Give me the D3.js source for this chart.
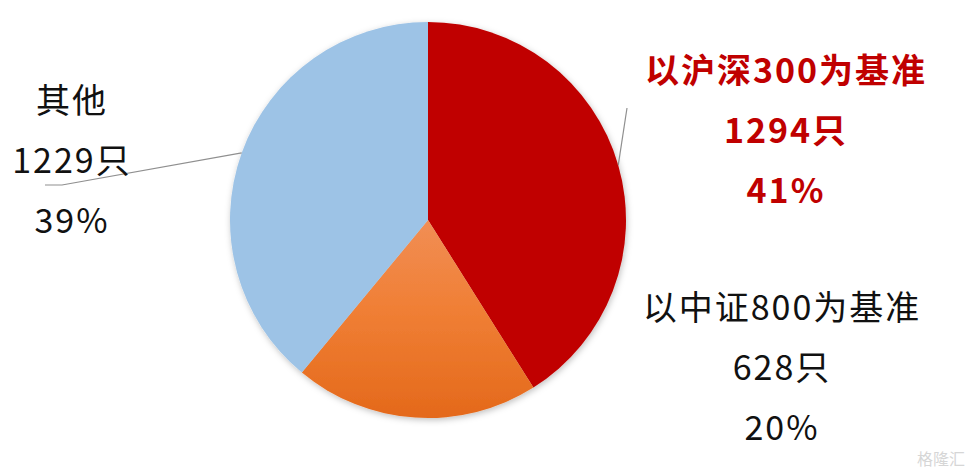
<!DOCTYPE html>
<html><head><meta charset="utf-8">
<script src="https://cdn.jsdelivr.net/npm/d3@7"></script>
<style>
html,body{margin:0;padding:0;background:#fff;}
text{font-family:"Microsoft YaHei","Noto Sans CJK SC","Noto Sans",sans-serif;}
</style></head>
<body><svg id="c" width="975" height="475"></svg>
<script>
const categories = ["以沪深300为基准", "以中证800为基准", "其他"];
const counts = [1294, 628, 1229];
const percents = ["41%", "20%", "39%"];
const unit = "只";

const svg = d3.select("#c");
const cx = 428, cy = 220, R = 198;

const defs = svg.append("defs");
const f = defs.append("filter").attr("id","sh").attr("x","-10%").attr("y","-10%").attr("width","120%").attr("height","120%");
f.append("feDropShadow").attr("dx",1).attr("dy",2).attr("stdDeviation",3).attr("flood-color","#000").attr("flood-opacity",0.25);
const g1 = defs.append("linearGradient").attr("id","og").attr("gradientUnits","userSpaceOnUse")
  .attr("x1",0).attr("y1",0).attr("x2",0).attr("y2",R);
g1.append("stop").attr("offset","0%").attr("stop-color","#f18e55");
g1.append("stop").attr("offset","45%").attr("stop-color","#f07f35");
g1.append("stop").attr("offset","100%").attr("stop-color","#e4691b");

const fills = ["#c00000", "url(#og)", "#9dc3e6"];

const pie = d3.pie().sort(null).value(d => d)(counts);
const arc = d3.arc().innerRadius(0).outerRadius(R);

const gp = svg.append("g").attr("transform",`translate(${cx},${cy})`);
gp.append("g").attr("filter","url(#sh)")
  .selectAll("path").data(pie).join("path")
  .attr("d", arc).attr("fill",(d,i)=>fills[i]);

// leader lines (from slice mid-angle on the rim)
const line = d3.line();
function pt(a, r){ return [cx + r*Math.sin(a), cy - r*Math.cos(a)]; }
const mid = d => (d.startAngle + d.endAngle)/2;
const pRed = pt(mid(pie[0]), R);
svg.append("path").attr("d", line([pRed, [627,108]])).attr("stroke","#8f8f8f").attr("stroke-width",1.2).attr("fill","none");
const pOth = pt(mid(pie[2]), R);
svg.append("path").attr("d", line([pOth, [62,185],[45,185]])).attr("stroke","#8f8f8f").attr("stroke-width",1.2).attr("fill","none");

// labels
const labelPos = [
  {x:786, y:83, color:"#c00000", weight:"bold"},
  {x:782, y:320, color:"#111", weight:"normal"},
  {x:72, y:113, color:"#111", weight:"normal"}
];
categories.forEach((c,i)=>{
  const p = labelPos[i];
  const lines = [c, counts[i] + unit, percents[i]];
  lines.forEach((t,j)=>{
    svg.append("text").attr("x",p.x).attr("y",p.y + j*60)
      .attr("text-anchor","middle").attr("font-size",34)
      .attr("letter-spacing",2)
      .attr("font-weight",p.weight).attr("fill",p.color).text(t);
  });
});

// watermark
svg.append("text").attr("x",965).attr("y",465).attr("text-anchor","end")
  .attr("font-size",16).attr("fill","#d6d6d6").text("格隆汇");
</script></body></html>
